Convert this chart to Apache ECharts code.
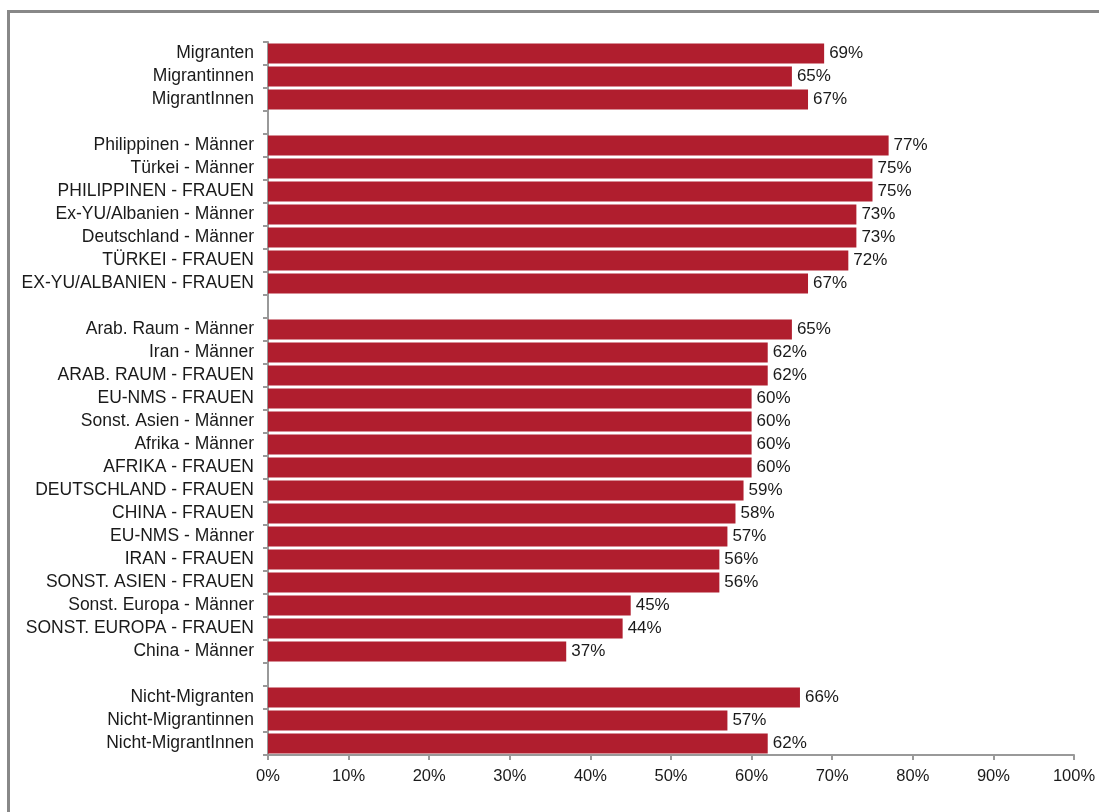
<!DOCTYPE html>
<html>
<head>
<meta charset="utf-8">
<script src="https://cdn.jsdelivr.net/npm/echarts@6/dist/echarts.min.js"></script>
<style>
html,body{margin:0;padding:0;background:#fff;overflow:hidden;}
#frame{position:absolute;left:7px;top:10px;width:1200px;height:900px;border:3px solid #888;box-sizing:border-box;}
#chart{position:absolute;left:0;top:0;width:1099px;height:812px;}
</style>
</head>
<body>
<div id="frame"></div>
<div id="chart"></div>
<script>
const categories = [
  "Migranten", "Migrantinnen", "MigrantInnen", "",
  "Philippinen - Männer", "Türkei - Männer", "PHILIPPINEN - FRAUEN",
  "Ex-YU/Albanien - Männer", "Deutschland - Männer", "TÜRKEI - FRAUEN",
  "EX-YU/ALBANIEN - FRAUEN", "",
  "Arab. Raum - Männer", "Iran - Männer", "ARAB. RAUM - FRAUEN",
  "EU-NMS - FRAUEN", "Sonst. Asien - Männer", "Afrika - Männer",
  "AFRIKA - FRAUEN", "DEUTSCHLAND - FRAUEN", "CHINA - FRAUEN",
  "EU-NMS - Männer", "IRAN - FRAUEN", "SONST. ASIEN - FRAUEN",
  "Sonst. Europa - Männer", "SONST. EUROPA - FRAUEN", "China - Männer", "",
  "Nicht-Migranten", "Nicht-Migrantinnen", "Nicht-MigrantInnen"
];
const values = [
  69, 65, 67, null,
  77, 75, 75, 73, 73, 72, 67, null,
  65, 62, 62, 60, 60, 60, 60, 59, 58, 57, 56, 56, 45, 44, 37, null,
  66, 57, 62
];
const xTicks = [0, 10, 20, 30, 40, 50, 60, 70, 80, 90, 100];

const FONT = 'Liberation Sans, Arial, sans-serif';
const chart = echarts.init(document.getElementById('chart'), null, {renderer: 'canvas'});
chart.setOption({
  animation: false,
  backgroundColor: 'transparent',
  grid: {left: 268, right: 25, top: 42, bottom: 57, containLabel: false},
  xAxis: {
    type: 'value', min: xTicks[0], max: xTicks[xTicks.length - 1], interval: 10,
    axisLine: {show: true, lineStyle: {color: '#999', width: 2}},
    axisTick: {show: true, length: 5, lineStyle: {color: '#999', width: 2}},
    splitLine: {show: false},
    axisLabel: {formatter: '{value}%', color: '#1a1a1a', fontSize: 16.5, fontFamily: FONT, margin: 13}
  },
  yAxis: {
    type: 'category', data: categories, inverse: true,
    axisLine: {show: true, lineStyle: {color: '#999', width: 2}},
    axisTick: {show: true, length: 5, lineStyle: {color: '#999', width: 2}},
    axisLabel: {color: '#1a1a1a', fontSize: 17.5, fontFamily: FONT, margin: 14, interval: 0}
  },
  series: [{
    type: 'bar', data: values, barWidth: 20,
    itemStyle: {color: '#B01E2E'},
    label: {show: true, position: 'right', distance: 5, formatter: '{c}%', color: '#1a1a1a', fontSize: 17, fontFamily: FONT}
  }]
});
</script>
</body>
</html>
